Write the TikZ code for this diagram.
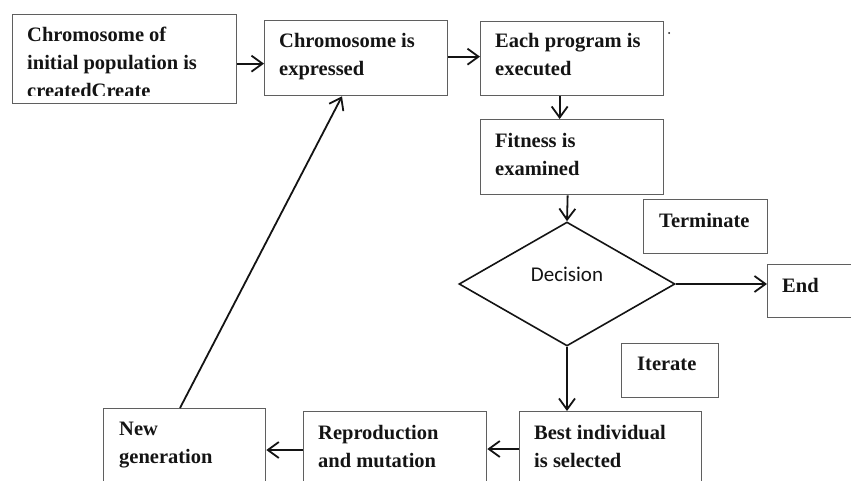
\documentclass[tikz,border=0pt]{standalone}
\usepackage{fontspec}
\setmainfont{Liberation Serif}
\newfontfamily\decfont{Carlito}
\usetikzlibrary{arrows.meta,shapes.geometric,calc}
\definecolor{boxgray}{RGB}{95,95,95}
\definecolor{ink}{RGB}{20,20,20}

\begin{document}
\begin{tikzpicture}[x=1pt,y=-1pt,
  box/.style={draw=boxgray, line width=1.3pt, rectangle, inner sep=0pt, anchor=north west},
  lbl/.style={font=\fontsize{20.5}{28}\selectfont\bfseries, text=ink, align=left, inner sep=0pt, anchor=north west},
  flow/.style={draw=ink, line width=1.8pt, -{Straight Barb[length=11pt,width=16pt,line width=1.8pt]}}]

\useasboundingbox (0,0) rectangle (851,480);
\clip (0,0) rectangle (851,480);

% process boxes
\node[box, minimum width=224pt, minimum height=89pt] (init)   at (12,14)  {};
\node[box, minimum width=183pt, minimum height=75pt] (expr)   at (264,20) {};
\node[box, minimum width=183pt, minimum height=74pt] (exec)   at (480,21) {};
\node[box, minimum width=183pt, minimum height=75pt] (fit)    at (480,119) {};
\node[box, minimum width=124pt, minimum height=54pt] (term)   at (643,199) {};
\node[box, minimum width=95pt,  minimum height=53pt] (stop)   at (767,264) {};
\node[box, minimum width=97pt,  minimum height=54pt] (iter)   at (621,343) {};
\node[box, minimum width=182pt, minimum height=80pt] (best)   at (519,411) {};
\node[box, minimum width=183pt, minimum height=80pt] (repro)  at (303,411) {};
\node[box, minimum width=162pt, minimum height=80pt] (newgen) at (103,408) {};

% decision
\node[diamond, draw=ink, line width=1.6pt, minimum width=216pt, minimum height=124pt, inner sep=0pt] (dec) at (567,284) {};
\node[font=\decfont\fontsize{21}{24}\selectfont, text=ink, inner sep=0pt] (dectext) at (567,274) {Decision};

% box texts
\begin{scope}
  \clip (12,14) rectangle (236,95);
  \node[lbl] (initt) at (27,27) {Chromosome of\\initial population is\\createdCreate};
\end{scope}
\node[lbl] (exprt)   at (279,33)  {Chromosome is\\expressed};
\node[lbl] (exect)   at (495,33)  {Each program is\\executed};
\node[lbl] (fitt)    at (495,133) {Fitness is\\examined};
\node[lbl] (termt)   at (659,213) {Terminate};
\node[lbl] (stopt)   at (782,278) {End};
\node[lbl] (itert)   at (637,357) {Iterate};
\node[lbl] (bestt)   at (534,425) {Best individual\\is selected};
\node[lbl] (reprot)  at (318,425) {Reproduction\\and mutation};
\node[lbl] (newgent) at (119,422) {New\\generation};

\fill[ink] (669,33) circle (1pt);

% connectors
\draw[flow] ($(init.east)+(0,4.5)$) -- ($(expr.west)+(0,5.5)$);
\draw[flow] ($(expr.east)+(0,-1.5)$) -- ($(exec.west)+(0,-2)$);
\draw[flow] ($(exec.south)+(-12.5,0)$) -- ($(fit.north)+(-12.5,0)$);
\draw[flow] ($(fit.south)+(-4.5,0)$) -- (dec.north);
\draw[flow] (dec.east) -- (dec.east -| stop.west);
\draw[flow] (dec.south) -- (dec.south |- best.north);
\draw[flow] ($(best.north west)+(0,38)$) -- ($(repro.north east)+(0,38)$);
\draw[flow] ($(repro.north west)+(0,39)$) -- ($(newgen.north east)+(0,42)$);
\draw[flow] ($(newgen.north west)+(77,0)$) -- ($(expr.south west)+(78,0)$);

\end{tikzpicture}
\end{document}
